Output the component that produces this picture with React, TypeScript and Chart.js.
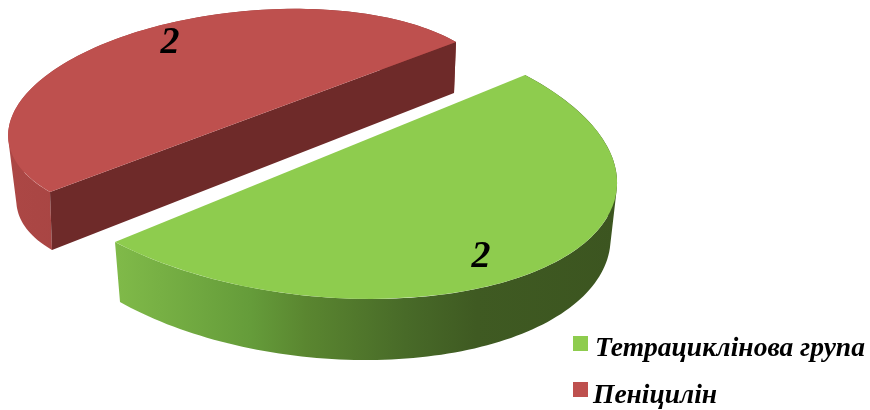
import React, { useEffect, useRef } from "react";
import { Chart, registerables } from "chart.js";

Chart.register(...registerables);

const categories = ["Тетрациклінова група", "Пеніцилін"];
const seriesValues = [2, 2];
const sliceColors = ["#8ECC4E", "#BE504E"];

type Vec = [number, number];
type Ellipse = { c: Vec; u: Vec; v: Vec };

// Projection of each slice's upper and lower faces: centre plus two conjugate half-axes.
const sliceViews: { top: Ellipse; bottom: Ellipse }[] = [
  {
    top: { c: [320, 158.5], u: [205, -83.5], v: [215, 113] },
    bottom: { c: [322.5, 216], u: [202.5, -86], v: [205, 115.5] },
  },
  {
    top: { c: [253, 117], u: [203, -75], v: [137, 78] },
    bottom: { c: [253, 171.5], u: [201, -78.5], v: [125, 72] },
  },
];

const rimStops: [number, string][][] = [
  [
    [0, "#80BA49"],
    [0.27, "#659C3A"],
    [0.38, "#5A8630"],
    [0.58, "#486A28"],
    [0.72, "#3F5A22"],
    [1, "#3C5520"],
  ],
  [
    [0, "#AC4745"],
    [1, "#8C3937"],
  ],
];
const cutFaceColor = "#6E2A29";

const valueLabelAnchors: Vec[] = [
  [481, 267],
  [170, 53],
];
const legendRows = [
  { boxX: 573, boxY: 336, textX: 595, textY: 356 },
  { boxX: 573, boxY: 382, textX: 593, textY: 403 },
];
const BOX_SIZE = 15;
const SERIF = '"Liberation Serif", serif';

const at = (e: Ellipse, angle: number): Vec => [
  e.c[0] + e.u[0] * Math.cos(angle) + e.v[0] * Math.sin(angle),
  e.c[1] + e.u[1] * Math.cos(angle) + e.v[1] * Math.sin(angle),
];

// Adds a quad to the current path, always wound the same way so nonzero fill keeps every one.
const addQuad = (ctx: CanvasRenderingContext2D, pts: Vec[]) => {
  let area = 0;
  pts.forEach((p, k) => {
    const q = pts[(k + 1) % pts.length];
    area += p[0] * q[1] - q[0] * p[1];
  });
  const ordered = area < 0 ? [...pts].reverse() : pts;
  ordered.forEach((p, k) => (k === 0 ? ctx.moveTo(p[0], p[1]) : ctx.lineTo(p[0], p[1])));
  ctx.closePath();
};

const slabPlugin = {
  id: "slab",
  // Draws the sides and then the projected arc of each slice, back slice first.
  beforeDatasetsDraw(chart: any) {
    const { ctx } = chart;
    const arcs = chart.getDatasetMeta(0).data;
    [1, 0].forEach((i) => {
      const arc = arcs[i];
      const view = sliceViews[i];
      const steps = 120;
      const angles: number[] = [];
      for (let s = 0; s <= steps; s++) {
        angles.push(arc.startAngle + ((arc.endAngle - arc.startAngle) * s) / steps);
      }

      ctx.save();
      const xs = angles.map((a) => at(view.top, a)[0]);
      const grad = ctx.createLinearGradient(Math.min(...xs), 0, Math.max(...xs), 0);
      rimStops[i].forEach(([o, col]) => grad.addColorStop(o, col));
      ctx.fillStyle = grad;
      ctx.beginPath();
      for (let k = 0; k < steps; k++) {
        addQuad(ctx, [
          at(view.top, angles[k]),
          at(view.top, angles[k + 1]),
          at(view.bottom, angles[k + 1]),
          at(view.bottom, angles[k]),
        ]);
      }
      ctx.fill();

      // The straight cut faces the viewer only on the back slice.
      if (i === 1) {
        ctx.fillStyle = cutFaceColor;
        ctx.beginPath();
        addQuad(ctx, [
          at(view.top, arc.startAngle),
          at(view.top, arc.endAngle),
          at(view.bottom, arc.endAngle),
          at(view.bottom, arc.startAngle),
        ]);
        ctx.fill();
      }
      ctx.restore();

      ctx.save();
      const r = arc.outerRadius;
      const { c, u, v } = view.top;
      ctx.translate(c[0], c[1]);
      ctx.transform(u[0] / r, u[1] / r, v[0] / r, v[1] / r, 0, 0);
      ctx.translate(-arc.x, -arc.y);
      arc.draw(ctx, chart.chartArea);
      ctx.restore();
    });
    return false;
  },
  afterDraw(chart: any) {
    const { ctx } = chart;
    const dataset = chart.data.datasets[0];
    ctx.save();
    ctx.fillStyle = "#000";
    ctx.textBaseline = "alphabetic";

    ctx.textAlign = "center";
    ctx.font = `italic bold 38px ${SERIF}`;
    dataset.data.forEach((value: number, i: number) => {
      ctx.fillText(String(value), valueLabelAnchors[i][0], valueLabelAnchors[i][1]);
    });

    ctx.textAlign = "left";
    ctx.font = `italic bold 27.5px ${SERIF}`;
    chart.data.labels.forEach((label: string, i: number) => {
      const row = legendRows[i];
      ctx.fillStyle = dataset.backgroundColor[i];
      ctx.fillRect(row.boxX, row.boxY, BOX_SIZE, BOX_SIZE);
      ctx.fillStyle = "#000";
      ctx.fillText(label, row.textX, row.textY);
    });
    ctx.restore();
  },
};

export default function App() {
  const ref = useRef<HTMLCanvasElement>(null);
  useEffect(() => {
    const chart = new Chart(ref.current!, {
      type: "pie",
      data: {
        labels: categories,
        datasets: [
          {
            data: seriesValues,
            backgroundColor: sliceColors,
            borderWidth: 0,
            clip: false,
          },
        ],
      },
      options: {
        responsive: false,
        animation: false,
        rotation: 90,
        plugins: { legend: { display: false }, tooltip: { enabled: false } },
      },
      plugins: [slabPlugin],
    } as any);
    return () => chart.destroy();
  }, []);
  return (
    <div style={{ position: "absolute", left: 0, top: 0, width: 870, height: 410, background: "#fff" }}>
      <canvas ref={ref} width={870} height={410} style={{ display: "block" }} />
    </div>
  );
}
